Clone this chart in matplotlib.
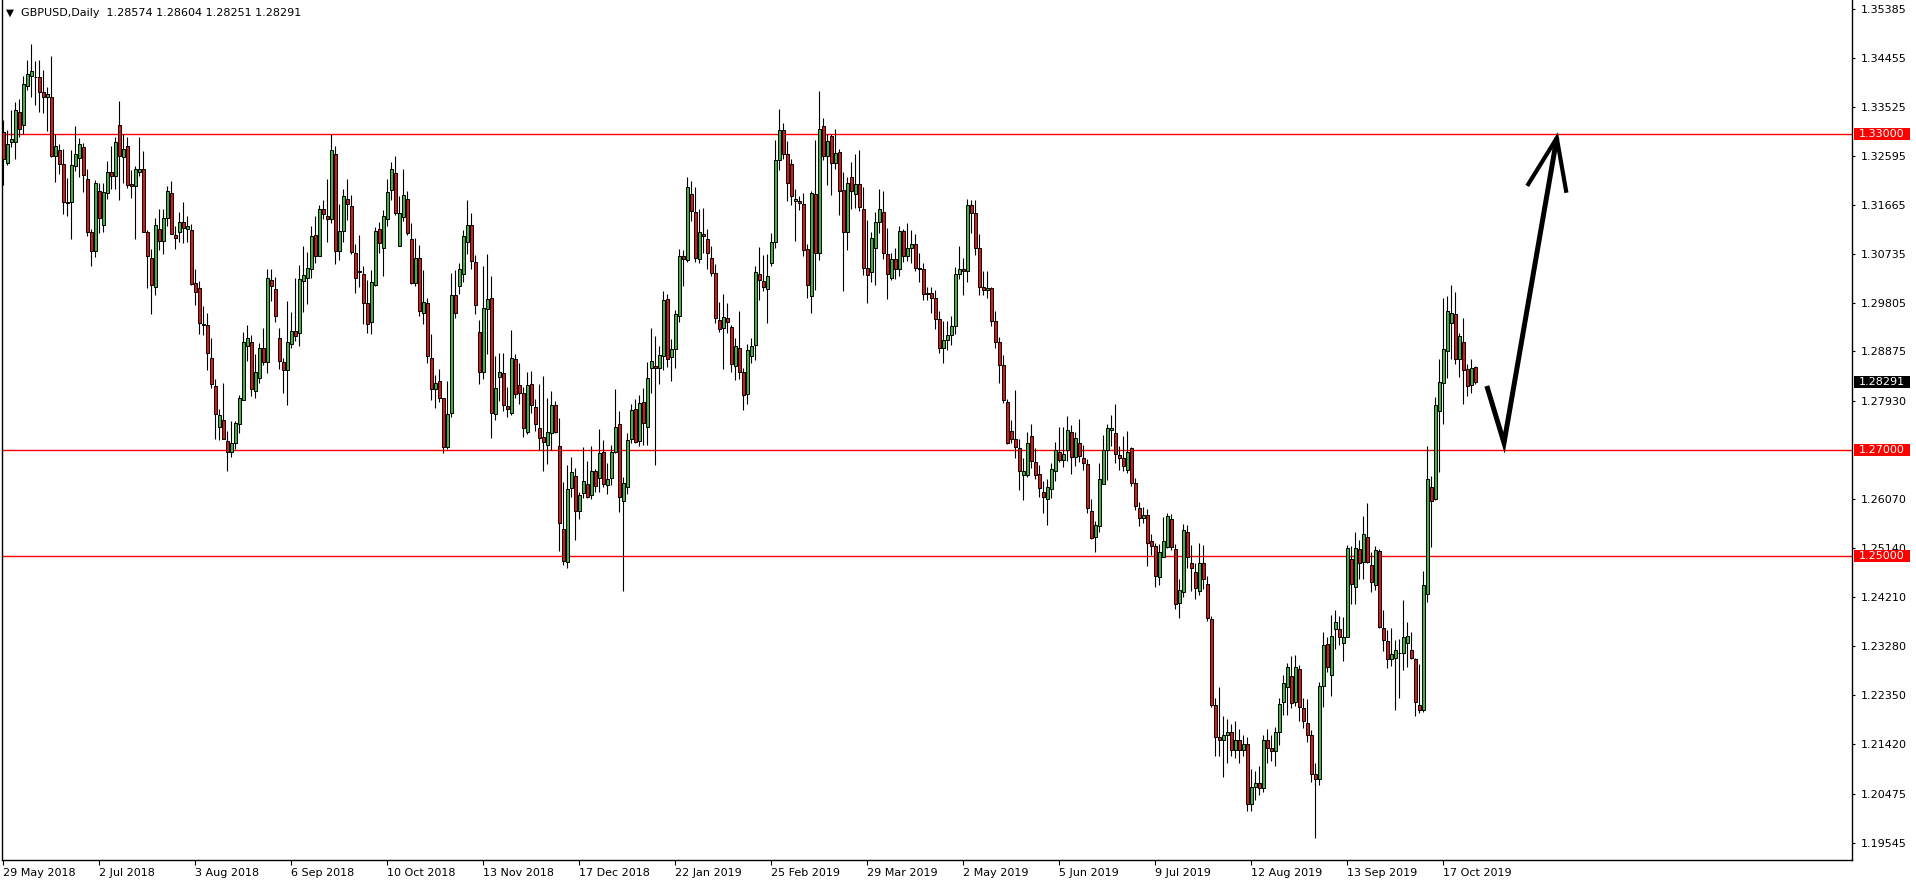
import numpy as np
import matplotlib
matplotlib.use('Agg')
import matplotlib.pyplot as plt
import matplotlib.transforms as mtransforms
from matplotlib.patches import Rectangle

# chart text
symbol = 'GBPUSD,Daily'
date_labels = ['29 May 2018', '2 Jul 2018', '3 Aug 2018', '6 Sep 2018', '10 Oct 2018',
               '13 Nov 2018', '17 Dec 2018', '22 Jan 2019', '25 Feb 2019', '29 Mar 2019',
               '2 May 2019', '5 Jun 2019', '9 Jul 2019', '12 Aug 2019', '13 Sep 2019',
               '17 Oct 2019']
label_step = 24
price_ticks = [1.35385, 1.34455, 1.33525, 1.32595, 1.31665, 1.30735, 1.29805, 1.28875,
               1.27930, 1.26070, 1.25140, 1.24210, 1.23280, 1.22350, 1.21420, 1.20475,
               1.19545]
levels = [1.33, 1.27, 1.25]

# daily OHLC, one value per bar
opens = [
    1.3305, 1.3245, 1.3285, 1.3285, 1.3342, 1.3318, 1.3391, 1.3410, 1.3408, 1.3408,
    1.3380, 1.3370, 1.3370, 1.3259, 1.3270, 1.3244, 1.3171, 1.3171, 1.3240, 1.3255,
    1.3275, 1.3215, 1.3114, 1.3078, 1.3192, 1.3127, 1.3188, 1.3228, 1.3220, 1.3318,
    1.3256, 1.3278, 1.3205, 1.3202, 1.3229, 1.3234, 1.3114, 1.3066, 1.3010, 1.3121,
    1.3098, 1.3142, 1.3188, 1.3109, 1.3114, 1.3134, 1.3120, 1.3118, 1.3017, 1.3009,
    1.2940, 1.2938, 1.2875, 1.2822, 1.2745, 1.2757, 1.2718, 1.2696, 1.2714, 1.2749,
    1.2795, 1.2897, 1.2906, 1.2812, 1.2837, 1.2895, 1.2867, 1.3023, 1.3006, 1.2914,
    1.2867, 1.2852, 1.2902, 1.2926, 1.2922, 1.3022, 1.3028, 1.3044, 1.3109, 1.3068,
    1.3158, 1.3145, 1.3139, 1.3263, 1.3079, 1.3117, 1.3178, 1.3164, 1.3074, 1.3039,
    1.3035, 1.2979, 1.2943, 1.3013, 1.3121, 1.3085, 1.3140, 1.3194, 1.3226, 1.3087,
    1.3143, 1.3178, 1.3102, 1.3017, 1.3065, 1.2961, 1.2979, 1.2876, 1.2816, 1.2831,
    1.2799, 1.2707, 1.2771, 1.2995, 1.3011, 1.3034, 1.3096, 1.3128, 1.3057, 1.2924,
    1.2848, 1.2968, 1.2990, 1.2768, 1.2840, 1.2846, 1.2784, 1.2770, 1.2874, 1.2824,
    1.2808, 1.2734, 1.2826, 1.2783, 1.2743, 1.2725, 1.2710, 1.2732, 1.2786, 1.2708,
    1.2550, 1.2487, 1.2629, 1.2651, 1.2585, 1.2618, 1.2635, 1.2614, 1.2661, 1.2647,
    1.2696, 1.2634, 1.2647, 1.2697, 1.2749, 1.2604, 1.2631, 1.2721, 1.2778, 1.2718,
    1.2791, 1.2744, 1.2856, 1.2860, 1.2857, 1.2878, 1.2988, 1.2877, 1.2892, 1.2955,
    1.3069, 1.3062, 1.3186, 1.3152, 1.3063, 1.3110, 1.3102, 1.3066, 1.3036, 1.2947,
    1.2932, 1.2951, 1.2934, 1.2860, 1.2894, 1.2849, 1.2807, 1.2878, 1.2899, 1.3035,
    1.3021, 1.3007, 1.3056, 1.3096, 1.3252, 1.3309, 1.3262, 1.3243, 1.3174, 1.3174,
    1.3168, 1.3082, 1.2992, 1.3187, 1.3074, 1.3315, 1.3258, 1.3297, 1.3245, 1.3266,
    1.3194, 1.3114, 1.3218, 1.3186, 1.3205, 1.3158, 1.3046, 1.3039, 1.3085, 1.3133,
    1.3153, 1.3073, 1.3028, 1.3063, 1.3044, 1.3117, 1.3069, 1.3085, 1.3092, 1.3046,
    1.3045, 1.2996, 1.2998, 1.2990, 1.2950, 1.2895, 1.2910, 1.2918, 1.2935, 1.3035,
    1.3045, 1.3040, 1.3165, 1.3150, 1.3085, 1.3010, 1.3005, 1.3008, 1.2945, 1.2905,
    1.2862, 1.2791, 1.2736, 1.2722, 1.2705, 1.2652, 1.2652, 1.2727, 1.2677, 1.2654,
    1.2620, 1.2607, 1.2627, 1.2660, 1.2696, 1.2681, 1.2700, 1.2735, 1.2687, 1.2713,
    1.2686, 1.2673, 1.2585, 1.2535, 1.2557, 1.2635, 1.2701, 1.2739, 1.2733, 1.2691,
    1.2686, 1.2662, 1.2705, 1.2638, 1.2591, 1.2571, 1.2577, 1.2527, 1.2518, 1.2460,
    1.2498, 1.2517, 1.2569, 1.2512, 1.2409, 1.2431, 1.2545, 1.2485, 1.2468, 1.2433,
    1.2485, 1.2446, 1.2379, 1.2216, 1.2155, 1.2150, 1.2160, 1.2165, 1.2130, 1.2150,
    1.2130, 1.2142, 1.2028, 1.2060, 1.2068, 1.2058, 1.2150, 1.2135, 1.2128, 1.2165,
    1.2221, 1.2250, 1.2271, 1.2221, 1.2284, 1.2210, 1.2181, 1.2160, 1.2085, 1.2075,
    1.2253, 1.2332, 1.2274, 1.2361, 1.2360, 1.2333, 1.2346, 1.2494, 1.2441, 1.2512,
    1.2488, 1.2536, 1.2482, 1.2444, 1.2509, 1.2363, 1.2338, 1.2304, 1.2305, 1.2315,
    1.2314, 1.2333, 1.2321, 1.2303, 1.2217, 1.2206, 1.2426, 1.2630, 1.2607, 1.2774,
    1.2828, 1.2889, 1.2942, 1.2959, 1.2873, 1.2906, 1.2854, 1.2824, 1.28574]
highs = [
    1.3327, 1.3308, 1.3347, 1.3362, 1.3368, 1.3410, 1.3442, 1.3472, 1.3439, 1.3441,
    1.3423, 1.3389, 1.3448, 1.3301, 1.3282, 1.3272, 1.3217, 1.3270, 1.3316, 1.3293,
    1.3283, 1.3234, 1.3120, 1.3213, 1.3207, 1.3207, 1.3249, 1.3277, 1.3294, 1.3363,
    1.3300, 1.3294, 1.3233, 1.3240, 1.3294, 1.3268, 1.3118, 1.3083, 1.3142, 1.3158,
    1.3158, 1.3202, 1.3212, 1.3125, 1.3152, 1.3172, 1.3145, 1.3130, 1.3044, 1.3022,
    1.2974, 1.2960, 1.2913, 1.2836, 1.2778, 1.2828, 1.2737, 1.2756, 1.2755, 1.2804,
    1.2924, 1.2938, 1.2918, 1.2883, 1.2903, 1.2932, 1.3044, 1.3044, 1.3029, 1.2932,
    1.2876, 1.2983, 1.2962, 1.3028, 1.3052, 1.3088, 1.3076, 1.3125, 1.3144, 1.3166,
    1.3175, 1.3216, 1.3300, 1.3277, 1.3168, 1.3196, 1.3216, 1.3185, 1.3092, 1.3109,
    1.3050, 1.3024, 1.3042, 1.3124, 1.3134, 1.3156, 1.3216, 1.3248, 1.3259, 1.3183,
    1.3235, 1.3192, 1.3131, 1.3104, 1.3090, 1.3043, 1.2990, 1.2920, 1.2843, 1.2854,
    1.2800, 1.2831, 1.3036, 1.3042, 1.3056, 1.3118, 1.3175, 1.3150, 1.3070, 1.2947,
    1.3049, 1.3073, 1.3030, 1.2879, 1.2885, 1.2885, 1.2821, 1.2928, 1.2882, 1.2865,
    1.2821, 1.2849, 1.2850, 1.2797, 1.2826, 1.2841, 1.2800, 1.2812, 1.2793, 1.2762,
    1.2639, 1.2672, 1.2688, 1.2667, 1.2621, 1.2707, 1.2680, 1.2708, 1.2664, 1.2741,
    1.2719, 1.2675, 1.2710, 1.2816, 1.2775, 1.2650, 1.2732, 1.2788, 1.2798, 1.2805,
    1.2818, 1.2867, 1.2932, 1.2917, 1.2898, 1.3003, 1.2996, 1.2912, 1.2967, 1.3082,
    1.3080, 1.3218, 1.3211, 1.3199, 1.3159, 1.3160, 1.3121, 1.3087, 1.3053, 1.2981,
    1.2997, 1.2979, 1.2938, 1.2913, 1.2964, 1.2856, 1.2902, 1.2914, 1.3050, 1.3086,
    1.3071, 1.3072, 1.3113, 1.3289, 1.3349, 1.3321, 1.3287, 1.3254, 1.3197, 1.3182,
    1.3188, 1.3091, 1.3193, 1.3290, 1.3382, 1.3331, 1.3300, 1.3300, 1.3311, 1.3272,
    1.3228, 1.3219, 1.3247, 1.3263, 1.3270, 1.3199, 1.3137, 1.3115, 1.3153, 1.3196,
    1.3193, 1.3123, 1.3074, 1.3085, 1.3125, 1.3120, 1.3132, 1.3118, 1.3110, 1.3075,
    1.3055, 1.3010, 1.3010, 1.3005, 1.2965, 1.2945, 1.2945, 1.2955, 1.3048, 1.3088,
    1.3065, 1.3177, 1.3175, 1.3175, 1.3110, 1.3040, 1.3040, 1.3010, 1.2965, 1.2915,
    1.2880, 1.2798, 1.2758, 1.2815, 1.2721, 1.2685, 1.2735, 1.2750, 1.2704, 1.2672,
    1.2642, 1.2645, 1.2675, 1.2716, 1.2745, 1.2745, 1.2765, 1.2747, 1.2734, 1.2759,
    1.2710, 1.2683, 1.2607, 1.2566, 1.2675, 1.2729, 1.2749, 1.2767, 1.2788, 1.2708,
    1.2727, 1.2736, 1.2706, 1.2648, 1.2601, 1.2592, 1.2588, 1.2541, 1.2523, 1.2522,
    1.2573, 1.2581, 1.2579, 1.2521, 1.2456, 1.2560, 1.2558, 1.2520, 1.2485, 1.2524,
    1.2520, 1.2461, 1.2385, 1.2230, 1.2250, 1.2195, 1.2190, 1.2180, 1.2185, 1.2170,
    1.2160, 1.2155, 1.2095, 1.2090, 1.2100, 1.2160, 1.2170, 1.2160, 1.2175, 1.2230,
    1.2274, 1.2296, 1.2310, 1.2311, 1.2292, 1.2229, 1.2228, 1.2168, 1.2105, 1.2260,
    1.2354, 1.2346, 1.2387, 1.2397, 1.2386, 1.2383, 1.2520, 1.2519, 1.2545, 1.2529,
    1.2576, 1.2600, 1.2507, 1.2519, 1.2513, 1.2396, 1.2358, 1.2362, 1.2339, 1.2342,
    1.2415, 1.2374, 1.2354, 1.2306, 1.2294, 1.2471, 1.2708, 1.2651, 1.2802, 1.2874,
    1.2989, 1.2992, 1.3013, 1.3000, 1.2923, 1.2952, 1.2863, 1.2874, 1.28604]
lows = [
    1.3204, 1.3242, 1.3275, 1.3254, 1.3294, 1.3301, 1.3385, 1.3370, 1.3356, 1.3343,
    1.3341, 1.3307, 1.3256, 1.3210, 1.3225, 1.3149, 1.3144, 1.3101, 1.3231, 1.3218,
    1.3191, 1.3106, 1.3049, 1.3067, 1.3112, 1.3114, 1.3178, 1.3196, 1.3196, 1.3176,
    1.3207, 1.3198, 1.3179, 1.3101, 1.3220, 1.3114, 1.3009, 1.2958, 1.2995, 1.3080,
    1.3072, 1.3125, 1.3110, 1.3082, 1.3095, 1.3093, 1.3095, 1.3014, 1.2975, 1.2920,
    1.2919, 1.2852, 1.2819, 1.2722, 1.2720, 1.2721, 1.2661, 1.2687, 1.2702, 1.2733,
    1.2795, 1.2869, 1.2803, 1.2800, 1.2827, 1.2862, 1.2846, 1.2984, 1.2944, 1.2854,
    1.2809, 1.2786, 1.2895, 1.2907, 1.2897, 1.2963, 1.2978, 1.3028, 1.3056, 1.3068,
    1.3140, 1.3096, 1.3132, 1.3054, 1.3061, 1.3095, 1.3137, 1.3073, 1.2999, 1.3010,
    1.2940, 1.2923, 1.2921, 1.3011, 1.3074, 1.3031, 1.3125, 1.3175, 1.3147, 1.3087,
    1.3136, 1.3109, 1.3016, 1.3011, 1.2955, 1.2940, 1.2866, 1.2796, 1.2781, 1.2792,
    1.2695, 1.2702, 1.2763, 1.2952, 1.2997, 1.3020, 1.3073, 1.3044, 1.2958, 1.2826,
    1.2835, 1.2882, 1.2724, 1.2758, 1.2794, 1.2775, 1.2764, 1.2767, 1.2799, 1.2788,
    1.2726, 1.2731, 1.2771, 1.2737, 1.2700, 1.2660, 1.2673, 1.2700, 1.2733, 1.2508,
    1.2482, 1.2477, 1.2612, 1.2530, 1.2569, 1.2610, 1.2609, 1.2608, 1.2621, 1.2620,
    1.2630, 1.2616, 1.2634, 1.2695, 1.2582, 1.2433, 1.2616, 1.2713, 1.2713, 1.2708,
    1.2709, 1.2709, 1.2808, 1.2671, 1.2825, 1.2853, 1.2858, 1.2832, 1.2856, 1.2944,
    1.3012, 1.3057, 1.3136, 1.3057, 1.3055, 1.3075, 1.3044, 1.3030, 1.2941, 1.2925,
    1.2854, 1.2923, 1.2849, 1.2834, 1.2835, 1.2777, 1.2788, 1.2866, 1.2871, 1.2986,
    1.3003, 1.2941, 1.3050, 1.3085, 1.3233, 1.3254, 1.3173, 1.3166, 1.3097, 1.3156,
    1.3068, 1.2990, 1.2960, 1.3004, 1.3061, 1.3252, 1.3203, 1.3185, 1.3235, 1.3146,
    1.3003, 1.3081, 1.3158, 1.3160, 1.3155, 1.3033, 1.2979, 1.3020, 1.3013, 1.3112,
    1.3064, 1.2987, 1.3023, 1.3025, 1.3030, 1.3058, 1.3060, 1.3055, 1.3040, 1.3020,
    1.2986, 1.2985, 1.2960, 1.2930, 1.2885, 1.2866, 1.2890, 1.2900, 1.2920, 1.3025,
    1.2995, 1.3020, 1.3112, 1.3070, 1.2995, 1.2995, 1.2990, 1.2935, 1.2895, 1.2827,
    1.2790, 1.2711, 1.2713, 1.2686, 1.2625, 1.2606, 1.2649, 1.2667, 1.2645, 1.2612,
    1.2581, 1.2558, 1.2610, 1.2642, 1.2678, 1.2668, 1.2679, 1.2655, 1.2670, 1.2678,
    1.2662, 1.2580, 1.2531, 1.2507, 1.2544, 1.2635, 1.2643, 1.2708, 1.2676, 1.2662,
    1.2661, 1.2657, 1.2632, 1.2587, 1.2556, 1.2562, 1.2481, 1.2501, 1.2441, 1.2444,
    1.2498, 1.2515, 1.2511, 1.2398, 1.2382, 1.2421, 1.2477, 1.2432, 1.2418, 1.2425,
    1.2437, 1.2375, 1.2213, 1.2120, 1.2120, 1.2080, 1.2105, 1.2120, 1.2115, 1.2105,
    1.2120, 1.2015, 1.2015, 1.2036, 1.2045, 1.2050, 1.2105, 1.2110, 1.2100, 1.2140,
    1.2197, 1.2197, 1.2210, 1.2215, 1.2185, 1.2172, 1.2145, 1.2070, 1.1963, 1.2065,
    1.2212, 1.2278, 1.2233, 1.2323, 1.2330, 1.2300, 1.2346, 1.2408, 1.2408, 1.2455,
    1.2455, 1.2485, 1.2430, 1.2435, 1.2363, 1.2318, 1.2287, 1.2290, 1.2207, 1.2229,
    1.2282, 1.2289, 1.2303, 1.2196, 1.2200, 1.2202, 1.2412, 1.2516, 1.2605, 1.2658,
    1.2749, 1.2837, 1.2874, 1.2863, 1.2840, 1.2788, 1.2803, 1.2808, 1.28251]
closes = [
    1.3254, 1.3281, 1.3292, 1.3346, 1.3311, 1.3396, 1.3415, 1.3420, 1.3408, 1.3381,
    1.3370, 1.3377, 1.3258, 1.3278, 1.3244, 1.3172, 1.3170, 1.3242, 1.3262, 1.3282,
    1.3222, 1.3114, 1.3078, 1.3207, 1.3142, 1.3191, 1.3228, 1.3220, 1.3285, 1.3258,
    1.3272, 1.3204, 1.3202, 1.3234, 1.3235, 1.3115, 1.3068, 1.3014, 1.3128, 1.3098,
    1.3142, 1.3192, 1.3110, 1.3103, 1.3133, 1.3123, 1.3126, 1.3016, 1.3001, 1.2942,
    1.2937, 1.2884, 1.2825, 1.2768, 1.2767, 1.2721, 1.2697, 1.2714, 1.2751, 1.2800,
    1.2905, 1.2914, 1.2816, 1.2848, 1.2894, 1.2868, 1.3028, 1.3011, 1.2954, 1.2870,
    1.2852, 1.2905, 1.2926, 1.2917, 1.3026, 1.3033, 1.3047, 1.3107, 1.3068, 1.3158,
    1.3148, 1.3140, 1.3270, 1.3079, 1.3116, 1.3183, 1.3167, 1.3077, 1.3028, 1.3039,
    1.2979, 1.2939, 1.3020, 1.3116, 1.3093, 1.3145, 1.3190, 1.3235, 1.3150, 1.3150,
    1.3185, 1.3113, 1.3017, 1.3066, 1.2965, 1.2982, 1.2878, 1.2817, 1.2827, 1.2799,
    1.2707, 1.2768, 1.2995, 1.2960, 1.3044, 1.3106, 1.3128, 1.3060, 1.2975, 1.2849,
    1.2970, 1.2987, 1.2771, 1.2819, 1.2849, 1.2786, 1.2778, 1.2876, 1.2806, 1.2808,
    1.2742, 1.2824, 1.2785, 1.2749, 1.2724, 1.2716, 1.2734, 1.2786, 1.2734, 1.2561,
    1.2490, 1.2626, 1.2658, 1.2585, 1.2615, 1.2642, 1.2612, 1.2661, 1.2632, 1.2694,
    1.2635, 1.2645, 1.2696, 1.2745, 1.2611, 1.2638, 1.2719, 1.2776, 1.2715, 1.2790,
    1.2751, 1.2837, 1.2870, 1.2856, 1.2881, 1.2986, 1.2874, 1.2893, 1.2959, 1.3069,
    1.3063, 1.3199, 1.3155, 1.3066, 1.3114, 1.3106, 1.3075, 1.3037, 1.2951, 1.2930,
    1.2953, 1.2944, 1.2864, 1.2897, 1.2849, 1.2804, 1.2891, 1.2897, 1.3039, 1.3024,
    1.3010, 1.3030, 1.3096, 1.3251, 1.3309, 1.3262, 1.3207, 1.3182, 1.3178, 1.3170,
    1.3080, 1.3013, 1.3188, 1.3074, 1.3311, 1.3258, 1.3288, 1.3245, 1.3264, 1.3193,
    1.3114, 1.3207, 1.3193, 1.3205, 1.3161, 1.3046, 1.3032, 1.3104, 1.3134, 1.3158,
    1.3074, 1.3034, 1.3063, 1.3044, 1.3117, 1.3069, 1.3085, 1.3092, 1.3046, 1.3045,
    1.2996, 1.2998, 1.2990, 1.2950, 1.2895, 1.2910, 1.2918, 1.2935, 1.3035, 1.3045,
    1.3040, 1.3165, 1.3150, 1.3085, 1.3010, 1.3005, 1.3008, 1.2945, 1.2905, 1.2862,
    1.2796, 1.2714, 1.2722, 1.2706, 1.2661, 1.2661, 1.2713, 1.2679, 1.2652, 1.2628,
    1.2611, 1.2631, 1.2664, 1.2700, 1.2681, 1.2692, 1.2739, 1.2687, 1.2723, 1.2689,
    1.2675, 1.2590, 1.2534, 1.2558, 1.2645, 1.2701, 1.2743, 1.2742, 1.2693, 1.2686,
    1.2670, 1.2697, 1.2638, 1.2594, 1.2572, 1.2577, 1.2524, 1.2518, 1.2462, 1.2506,
    1.2528, 1.2575, 1.2517, 1.2407, 1.2434, 1.2548, 1.2498, 1.2477, 1.2439, 1.2485,
    1.2455, 1.2382, 1.2216, 1.2155, 1.2150, 1.2160, 1.2165, 1.2130, 1.2150, 1.2130,
    1.2142, 1.2028, 1.2060, 1.2068, 1.2058, 1.2150, 1.2135, 1.2128, 1.2165, 1.2218,
    1.2257, 1.2288, 1.2219, 1.2288, 1.2212, 1.2185, 1.2160, 1.2085, 1.2075, 1.2253,
    1.2330, 1.2289, 1.2347, 1.2374, 1.2346, 1.2346, 1.2514, 1.2446, 1.2515, 1.2485,
    1.2540, 1.2488, 1.2450, 1.2510, 1.2365, 1.2339, 1.2304, 1.2313, 1.2321, 1.2315,
    1.2345, 1.2347, 1.2306, 1.2221, 1.2207, 1.2444, 1.2645, 1.2603, 1.2786, 1.2829,
    1.2892, 1.2964, 1.2961, 1.2873, 1.2916, 1.2852, 1.2822, 1.2857, 1.28291]

# hand drawn arrow, in bar / price units
arrow_bars = [370.9, 375.2, 388.4]
arrow_prices = [1.2822, 1.2714, 1.3293]
head_bars = [381.0, 388.4, 390.8]
head_prices = [1.3202, 1.3293, 1.3189]

bull = '#3cb43c'
bear = '#dc1414'
W, H = 1916, 884

fig = plt.figure(figsize=(W / 100, H / 100), dpi=100)
fig.patch.set_facecolor('white')
ax = fig.add_axes([2 / W, 24 / H, 1850 / W, 860 / H])

o = np.array(opens)
h = np.array(highs)
l = np.array(lows)
c = np.array(closes)
x = np.arange(len(c))
up = c >= o
bottom = np.minimum(o, c)
height = np.maximum(np.abs(c - o), 0.00006)

for lv in levels:
    ax.axhline(lv, color='#ff0000', lw=1.0, zorder=1)

ax.vlines(x, l, h, color='black', lw=0.8, zorder=2)
ax.bar(x[up], height[up], bottom=bottom[up], width=0.7, color=bull,
       edgecolor='black', linewidth=0.7, zorder=3)
ax.bar(x[~up], height[~up], bottom=bottom[~up], width=0.7, color=bear,
       edgecolor='black', linewidth=0.7, zorder=3)

ax.plot(arrow_bars, arrow_prices, color='black', lw=3.6, zorder=4,
        solid_capstyle='butt', solid_joinstyle='miter')
ax.plot(head_bars, head_prices, color='black', lw=3.0, zorder=4,
        solid_capstyle='butt', solid_joinstyle='miter')

ax.set_xlim(-0.325, 462.2)
ax.set_ylim(1.19217, 1.35551)

for s in ['left', 'right', 'bottom']:
    ax.spines[s].set_color('black')
    ax.spines[s].set_linewidth(1.0)
ax.spines['top'].set_visible(False)

ax.yaxis.tick_right()
ax.set_yticks(price_ticks)
ax.set_yticklabels(['%.5f' % p for p in price_ticks])
ax.tick_params(axis='y', direction='out', length=2.5, width=0.8, pad=3.5,
               labelsize=8, colors='black')
ax.set_xticks(np.arange(len(date_labels)) * label_step)
ax.set_xticklabels(date_labels, ha='left')
ax.tick_params(axis='x', direction='out', length=3.5, width=0.8, pad=2,
               labelsize=8, colors='black')

# value boxes on the price scale
trans = mtransforms.blended_transform_factory(ax.transAxes, ax.transData)
box_h = 12 / 5265
marks = [(lv, '#ff0000') for lv in levels] + [(closes[-1], 'black')]
for val, col in marks:
    ax.add_patch(Rectangle((1.0011, val - box_h / 2), 0.0303, box_h,
                           transform=trans, facecolor=col, edgecolor='none',
                           clip_on=False, zorder=6))
    ax.text(1.0038, val, '%.5f' % val, transform=trans, color='white',
            fontsize=8, va='center', ha='left', zorder=7, clip_on=False)

header = '%s  %.5f %.5f %.5f %.5f' % (symbol, opens[-1], highs[-1], lows[-1], closes[-1])
fig.text(6 / W, 1 - 12.5 / H, '\u25bc', fontsize=7.5, va='center', ha='left')
fig.text(21 / W, 1 - 12.5 / H, header, fontsize=8, va='center', ha='left')

fig.savefig('out.png', dpi=100, facecolor='white')
